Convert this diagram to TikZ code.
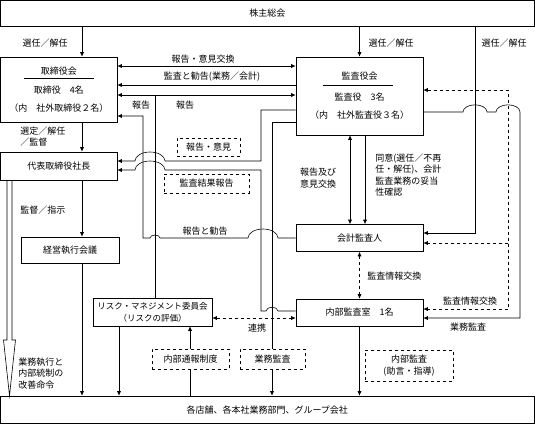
\documentclass[tikz,border=0pt]{standalone}
\usepackage{fontspec}
\setmainfont{Noto Sans CJK JP}
\usetikzlibrary{arrows.meta}
\begin{document}
\begin{tikzpicture}[x=1pt,y=-1pt,line width=0.6pt,>={Latex[length=4.5pt,width=4pt]},
  every node/.style={font=\fontsize{9}{11.5}\selectfont,inner sep=0pt},
  box/.style={draw,fill=white,align=center},
  tag/.style={draw,dashed,fill=white,align=center},
  lbl/.style={align=left},
  lhop/.style={start angle=0,end angle=180,x radius=#1,y radius=0.6*#1},
  rhop/.style={start angle=180,end angle=0,x radius=#1,y radius=0.6*#1}]
\useasboundingbox (0,0) rectangle (535,424);
\node[box,minimum width=533.5pt,minimum height=25.5pt] (kabunushi) at (267.25,13.25) {株主総会};
\node[box,minimum width=116.5pt,minimum height=65pt] (torishimari) at (58.75,89.5) {取締役会\\[7.5pt]取締役　4名\\[6.5pt]（内　社外取締役２名）};
\node[box,minimum width=127pt,minimum height=78pt] (kansayaku) at (359.5,96) {監査役会\\[9.5pt]監査役　3名\\[6.5pt]（内　社外監査役３名）};
\node[box,minimum width=116.5pt,minimum height=28pt] (daihyo) at (58.75,166) {代表取締役社長};
\node[box,minimum width=98pt,minimum height=26pt] (keiei) at (70,250) {経営執行会議};
\node[box,minimum width=127pt,minimum height=27pt] (kaikei) at (359.5,238) {会計監査人};
\node[box,minimum width=127pt,minimum height=27pt] (naibu) at (359.5,312.5) {内部監査室　1名};
\node[box,minimum width=119pt,minimum height=28pt,font=\fontsize{8.5}{12}\selectfont] (risk) at (152.5,312) {リスク・マネジメント委員会\\（リスクの評価）};
\node[box,minimum width=533.5pt,minimum height=27.5pt] (tenpo) at (267.25,409.75) {各店舗、各本社業務部門、グループ会社};
\draw ([shift={(-35,-11)}]torishimari.center) -- ++(70,0);
\draw ([shift={(-37,-11)}]kansayaku.center) -- ++(70,0);
\draw[->] (kabunushi.south -| 82,0) -- (torishimari.north -| 82,0);
\draw[->] (kabunushi.south -| kansayaku.north) -- (kansayaku.north);
\draw[->] (kabunushi.south -| 475,0) -- (475,233) -- (kaikei.east |- 0,233);
\draw[<->] (torishimari.east |- 0,66) -- (kansayaku.west |- 0,66);
\draw[->] (kansayaku.west |- 0,85) -- (torishimari.east |- 0,85);
\draw[<->] (torishimari.east |- 0,95) -- (kansayaku.west |- 0,95);
\draw (risk.north -| 155,0) -- (155,95);
\draw[->] (kaikei.west) -- (278,238) arc[lhop=15pt] -- (160,238) arc[lhop=5pt] -- (143,238) -- (143,116) -- (torishimari.east |- 0,116);
\draw[->] (kansayaku.west |- 0,110) -- (261,110) -- (261,161) -- (165,161) arc[lhop=15pt] -- (daihyo.east |- 0,161);
\draw[->] (naibu.west |- 0,311) -- (278,311) arc[lhop=6pt] -- (261,311) -- (261,170) -- (165,170) arc[lhop=15pt] -- (daihyo.east |- 0,170);
\draw[->] (kansayaku.west |- 0,122) -- (272,122) -- (tenpo.north -| 272,0);
\draw[<->] (kansayaku.south -| 350,0) -- (kaikei.north -| 350,0);
\draw[->] (kansayaku.south -| 365,0) -- (kaikei.north -| 365,0);
\draw[dashed,<->] (kansayaku.east |- 0,90) -- (508,90) -- (508,309) -- (naibu.east |- 0,309);
\draw[dashed,->] (508,243) -- (kaikei.east |- 0,243);
\draw[->] (kansayaku.east |- 0,112) -- (463,112) arc[rhop=12pt] -- (496,112) arc[rhop=12pt] -- (520,318) -- (naibu.east |- 0,318);
\draw[dashed,<->] (kaikei.south) -- (naibu.north);
\draw[->] (naibu.south) -- (tenpo.north -| naibu.south);
\draw[dashed,<->] (risk.east |- 0,318) -- (naibu.west |- 0,318);
\draw[->] (risk.south -| 119,0) -- (tenpo.north -| 119,0);
\draw[->] (tenpo.north -| 190,0) -- (risk.south -| 190,0);
\draw[->] (torishimari.south -| 82,0) -- (daihyo.north -| 82,0);
\draw[->] (daihyo.south -| 82,0) -- (keiei.north -| 82,0);
\draw[->] (keiei.south -| 82,0) -- (tenpo.north -| 82,0);
\draw (daihyo.south -| 7,0) -- (7,340) -- (3.5,340) -- (tenpo.north -| 9.5,0) -- (15.5,340) -- (12,340) -- (daihyo.south -| 12,0);
\node[tag,minimum width=63pt,minimum height=18pt] (iken) at (208.5,147) {報告・意見};
\node[tag,minimum width=85pt,minimum height=19pt] (kekka) at (206.5,183.5) {監査結果報告};
\node[tag,minimum width=77pt,minimum height=20pt] (tsuho) at (190.5,359) {内部通報制度};
\node[tag,minimum width=65pt,minimum height=20pt] (gyomu) at (272.5,359) {業務監査};
\node[tag,minimum width=88pt,minimum height=31pt] (shido) at (409,365.5) {内部監査\\(助言・指導)};
\node (sennin1) at (45,43) {選任／解任};
\node (sennin2) at (391,43) {選任／解任};
\node (sennin3) at (504,43) {選任／解任};
\node (ikenkokan) at (203,59) {報告・意見交換};
\node (kankoku) at (212,77) {監査と勧告(業務／会計)};
\node (hokoku1) at (141,105) {報告};
\node (hokoku2) at (185,105) {報告};
\node (hokokukankoku) at (205,231) {報告と勧告};
\node[lbl] (oyobi) at (318,178) {報告及び\\意見交換};
\node[lbl,anchor=west] (doi) at (375,175) {同意(選任／不再\\任・解任)、会計\\監査業務の妥当\\性確認};
\node[anchor=west] (joho1) at (367,276) {監査情報交換};
\node (joho2) at (470,301) {監査情報交換};
\node (gyomulbl) at (468,327) {業務監査};
\node (renkei) at (257,328) {連携};
\node[lbl,anchor=west] (sentei) at (20,136.5) {選定／解任\\／監督};
\node[anchor=west] (shiji) at (20,210) {監督／指示};
\node[lbl,anchor=west] (kaizen) at (18,373.5) {業務執行と\\内部統制の\\改善命令};
\end{tikzpicture}
\end{document}
